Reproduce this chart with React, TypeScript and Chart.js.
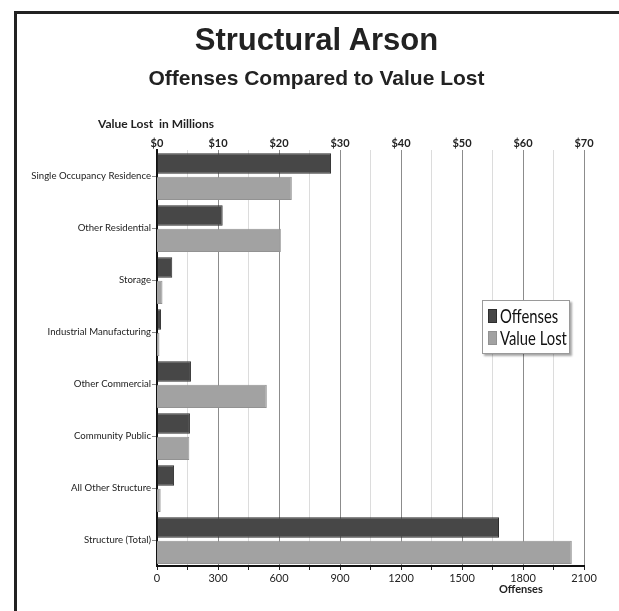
import React, { useEffect, useRef } from "react";
import { Chart, registerables } from "chart.js";

Chart.register(...registerables);

const categories = [
  "Single Occupancy Residence",
  "Other Residential",
  "Storage",
  "Industrial Manufacturing",
  "Other Commercial",
  "Community Public",
  "All Other Structure",
  "Structure (Total)",
];
const offenses = [856, 323, 75, 20, 167, 162, 84, 1682];
const valueLostMillions = [22.1, 20.3, 0.9, 0.4, 18.0, 5.3, 0.6, 68.0];

const seriesNames = ["Offenses", "Value Lost"];
const seriesColors = ["#474747", "#a2a2a2"];
const seriesBorders = ["#2e2e2e", "#929292"];

const offenseMax = 2100;
const offenseMajorStep = 300;
const valueMax = 70;
const valueStep = 10;

const FONT = "Lato, 'Open Sans', sans-serif";

export default function App() {
  const ref = useRef<HTMLCanvasElement | null>(null);

  useEffect(() => {
    if (!ref.current) return;
    const chart = new Chart(ref.current, {
      type: "bar",
      data: {
        labels: categories,
        datasets: [
          {
            label: seriesNames[0],
            data: offenses,
            xAxisID: "x",
            backgroundColor: seriesColors[0],
            borderColor: seriesBorders[0],
            borderWidth: 1,
            categoryPercentage: 0.96,
            barPercentage: 0.82,
          },
          {
            label: seriesNames[1],
            data: valueLostMillions,
            xAxisID: "x2",
            backgroundColor: seriesColors[1],
            borderColor: seriesBorders[1],
            borderWidth: 1,
            categoryPercentage: 0.96,
            barPercentage: 0.93,
          },
        ],
      },
      options: {
        indexAxis: "y",
        responsive: false,
        animation: false,
        devicePixelRatio: 1,
        layout: { padding: { left: 0, right: 35, top: 0, bottom: 0 } },
        plugins: {
          legend: { display: false },
          tooltip: { enabled: false },
          title: { display: false },
        },
        scales: {
          x: {
            type: "linear",
            position: "bottom",
            min: 0,
            max: offenseMax,
            afterFit: (s: any) => {
              s.height = 45;
            },
            ticks: {
              stepSize: offenseMajorStep / 2,
              autoSkip: false,
              maxRotation: 0,
              padding: 2,
              color: "#222",
              font: { family: FONT, size: 11 },
              callback: (v: any) => (Number(v) % offenseMajorStep === 0 ? String(v) : ""),
            },
            grid: {
              color: (ctx: any) => {
                const v = ctx.tick ? ctx.tick.value : -1;
                if (v === 0) return "rgba(0,0,0,0)";
                return v % offenseMajorStep === 0 ? "#8c8c8c" : "#dcdcdc";
              },
              tickColor: "#222",
              tickLength: 4,
              lineWidth: 1,
            },
            border: { display: true, color: "#111", width: 2 },
          },
          x2: {
            type: "linear",
            position: "top",
            min: 0,
            max: valueMax,
            afterFit: (s: any) => {
              s.height = 150;
            },
            ticks: {
              stepSize: valueStep,
              maxRotation: 0,
              padding: 0,
              color: "#222",
              font: { family: FONT, size: 11, weight: "bold" },
              callback: (v: any) => "$" + v,
            },
            grid: { display: false, drawTicks: false },
            border: { display: false },
          },
          y: {
            type: "category",
            position: "left",
            afterFit: (s: any) => {
              s.width = 157;
            },
            ticks: {
              padding: 1,
              color: "#222",
              font: { family: FONT, size: 9.6 },
            },
            grid: {
              drawOnChartArea: false,
              tickColor: "#888",
              tickLength: 5,
              offset: false,
            },
            border: { display: true, color: "#111", width: 2 },
          },
        },
      },
    });
    return () => chart.destroy();
  }, []);

  return (
    <div
      style={{
        position: "fixed",
        left: 0,
        top: 0,
        width: 619,
        height: 611,
        background: "#fff",
        overflow: "hidden",
      }}
    >
      <canvas ref={ref} width={619} height={611} style={{ position: "absolute", left: 0, top: 0 }} />
      {/* frame */}
      <div
        style={{
          position: "absolute",
          left: 14,
          top: 11,
          width: 620,
          height: 620,
          borderTop: "3px solid #222",
          borderLeft: "3px solid #222",
          boxSizing: "border-box",
        }}
      />
      <div
        style={{
          position: "absolute",
          left: 14,
          width: 605,
          top: 22,
          textAlign: "center",
          fontFamily: "'Liberation Sans', Arial, sans-serif",
          fontWeight: "bold",
          fontSize: 31,
          lineHeight: "36px",
          color: "#222",
        }}
      >
        Structural Arson
      </div>
      <div
        style={{
          position: "absolute",
          left: 14,
          width: 605,
          top: 66,
          textAlign: "center",
          fontFamily: "'Liberation Sans', Arial, sans-serif",
          fontWeight: "bold",
          fontSize: 21,
          lineHeight: "24px",
          color: "#222",
        }}
      >
        Offenses Compared to Value Lost
      </div>
      <div
        style={{
          position: "absolute",
          left: 98,
          top: 117,
          fontFamily: FONT,
          fontWeight: "bold",
          fontSize: 12,
          lineHeight: "14px",
          color: "#222",
          whiteSpace: "pre",
        }}
      >
        {"Value Lost  in Millions"}
      </div>
      <div
        style={{
          position: "absolute",
          left: 499,
          top: 582,
          fontFamily: FONT,
          fontWeight: "bold",
          fontSize: 11,
          lineHeight: "14px",
          color: "#222",
        }}
      >
        Offenses
      </div>
      {/* legend */}
      <div
        style={{
          position: "absolute",
          left: 482,
          top: 300,
          width: 88,
          height: 54,
          boxSizing: "border-box",
          border: "1px solid #9a9a9a",
          background: "#fff",
          boxShadow: "2px 2px 2px rgba(0,0,0,0.35)",
          padding: "4px 0 0 5px",
        }}
      >
        {seriesNames.map((n, i) => (
          <div key={n} style={{ display: "flex", alignItems: "center", height: 22 }}>
            <div
              style={{
                flex: "0 0 auto",
                width: 9,
                height: 14,
                background: seriesColors[i],
                border: "1px solid " + seriesBorders[i],
                boxSizing: "border-box",
                marginRight: 3,
              }}
            />
            <span
              style={{
                display: "inline-block",
                fontFamily: FONT,
                fontSize: 19,
                lineHeight: "22px",
                color: "#111",
                whiteSpace: "nowrap",
                transform: "scaleX(0.78)",
                transformOrigin: "left center",
              }}
            >
              {n}
            </span>
          </div>
        ))}
      </div>
    </div>
  );
}
